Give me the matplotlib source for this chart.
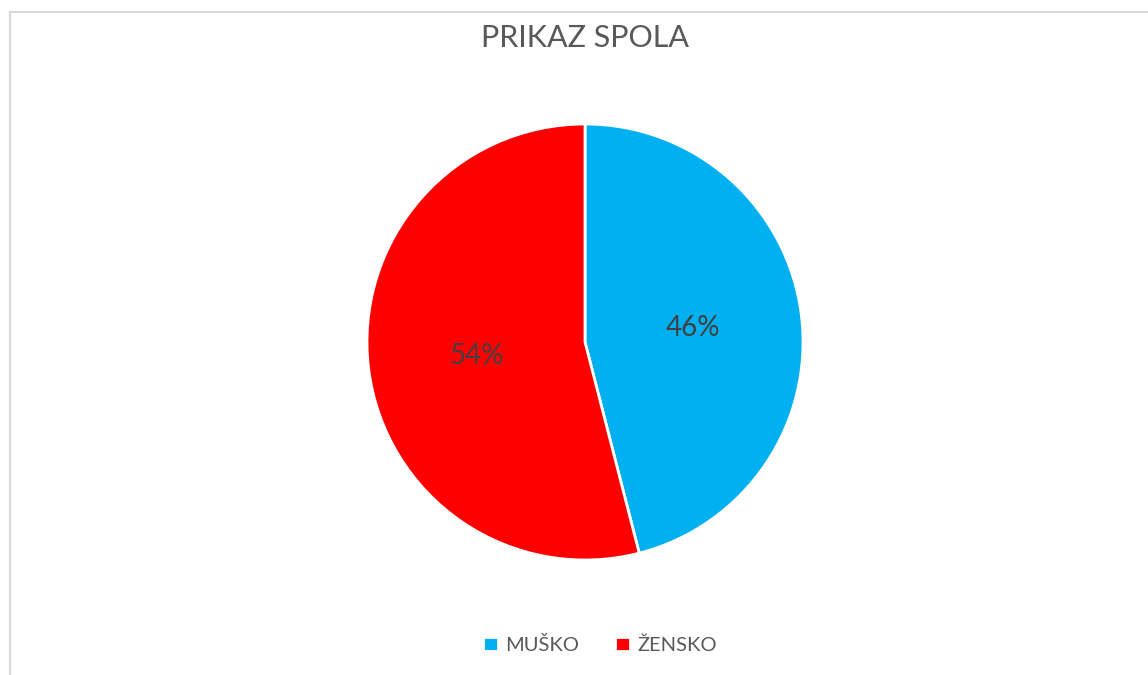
import matplotlib.pyplot as plt
from matplotlib.patches import Rectangle

labels = ["MUŠKO", "ŽENSKO"]
values = [46, 54]
colors = ["#00B0F0", "#FF0000"]

W, H = 1148, 675
plt.rcParams["font.family"] = ["Lato", "DejaVu Sans"]

fig = plt.figure(figsize=(W / 100, H / 100), dpi=100)

# chart frame (cropped on right/bottom like the screenshot)
fig.patches.append(Rectangle((10 / W, -0.1), 1.2, (H - 12) / H + 0.1,
                             transform=fig.transFigure, fill=False,
                             edgecolor="#d9d9d9", linewidth=1.5))

cx, cy, r = 585, 342, 218
ax = fig.add_axes([(cx - r) / W, (H - cy - r) / H, 2 * r / W, 2 * r / H])
wedges, _, autotexts = ax.pie(values, colors=colors, startangle=90, counterclock=False,
                              radius=1, autopct="%d%%", pctdistance=0.5,
                              wedgeprops=dict(edgecolor="white", linewidth=2),
                              textprops=dict(color="#404040", fontsize=20))
ax.set_xlim(-1, 1)
ax.set_ylim(-1, 1)
ax.set_aspect("equal")
ax.axis("off")

fig.text(cx / W, 1 - 38 / H, "PRIKAZ SPOLA", ha="center", va="center",
         fontsize=22, color="#595959")

fig.legend(wedges, labels, loc="center", bbox_to_anchor=(600 / W, 1 - 645 / H),
           ncol=2, frameon=False, fontsize=14.5, labelcolor="#595959",
           handlelength=0.75, handleheight=0.75, handletextpad=0.35, columnspacing=1.8)

fig.savefig("out.png", dpi=100)
